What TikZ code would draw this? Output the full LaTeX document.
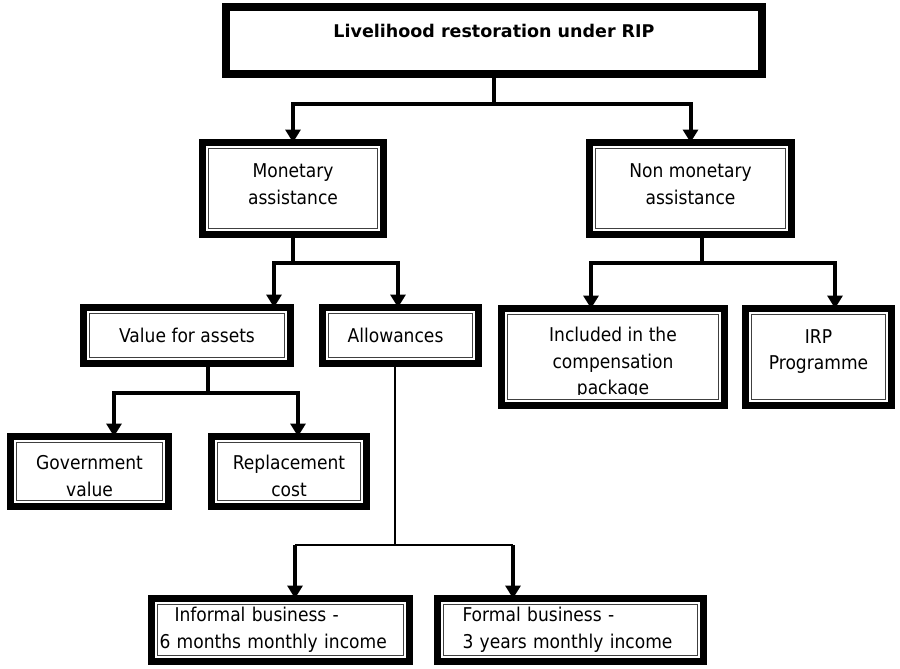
\documentclass[tikz,border=0pt]{standalone}
\usepackage{fontspec}
\setmainfont{DejaVu Sans}[FakeStretch=0.9]
\newfontfamily\titlefont{DejaVu Sans}
\usetikzlibrary{arrows.meta,calc}
\newcommand{\bodyfont}{\fontsize{19}{26.5}\selectfont}
\begin{document}
\begin{tikzpicture}[x=1pt,y=-1pt,
  every node/.style={font=\bodyfont},
  dbox/.style={draw=black, line width=7pt, inner sep=0pt, outer sep=0pt, align=center, fill=white},
  titlebox/.style={draw=black, line width=8pt, inner sep=0pt, outer sep=0pt, fill=white,
     font=\titlefont\fontsize{17.5}{20}\selectfont\bfseries, text height=13pt, text depth=18pt},
  innerline/.style={line width=1.5pt, draw=black!75},
  arr/.style={line width=4pt, line join=miter, -{Triangle[width=15pt,length=13pt]}},
  thinln/.style={line width=2pt}]
\useasboundingbox (0,0) rectangle (900,669);
\fill[white] (0,0) rectangle (900,669);

% boxes
\node[titlebox, minimum width=536pt, minimum height=67pt] (title) at (494,40.5) {Livelihood restoration under RIP};
\node[dbox, minimum width=181pt, minimum height=92pt] (mon) at (293,188.5) {Monetary\\assistance\\[-18pt]\mbox{}};
\node[dbox, minimum width=202pt, minimum height=92pt] (non) at (690.5,188.5) {Non monetary\\assistance\\[-18pt]\mbox{}};
\node[dbox, minimum width=207pt, minimum height=56pt] (val) at (187,335.5) {Value for assets};
\node[dbox, minimum width=156pt, minimum height=56pt] (allow) at (400.5,335.5) {Allowances\hspace*{10pt}};
\node[dbox, minimum width=223pt, minimum height=97pt] (incl) at (613,357) {\mbox{}\\Included in the\\compensation\\package};
\node[dbox, minimum width=146pt, minimum height=97pt] (irp) at (818.5,357) {IRP\\Programme\\[-12pt]\mbox{}};
\node[dbox, minimum width=158pt, minimum height=70pt] (gov) at (89.5,471.5) {\mbox{}\\[-3pt]Government\\value};
\node[dbox, minimum width=155pt, minimum height=70pt] (rep) at (289,471.5) {\mbox{}\\[-3pt]Replacement\\cost};
\node[dbox, minimum width=258pt, minimum height=63pt, text width=258pt, align=left] (inf) at (280.5,630)
  {\hspace*{23pt}Informal business -\\\hspace*{8pt}6 months monthly income};
\node[dbox, minimum width=266pt, minimum height=63pt, text width=266pt, align=left] (form) at (570.5,630)
  {\hspace*{25pt}Formal business -\\\hspace*{25pt}3 years monthly income};

% clipped last line of "package"
\fill[white] ([shift={(4pt,3.5pt)}]incl.south west) rectangle ([shift={(-4pt,11pt)}]incl.south east);

% inner thin borders
\foreach \n in {mon,non,val,allow,incl,irp,gov,rep,inf,form}
  \draw[innerline] ([shift={(6pt,6pt)}]\n.south west) rectangle ([shift={(-6pt,-6pt)}]\n.north east);

% connectors
\draw[arr] (title.south) -- ++(0,30) -| (mon.north);
\draw[arr] (title.south) -- ++(0,30) -| (non.north);

\draw[arr] (mon.south) -- ++(0,28) -| ([xshift=-19pt]mon.south |- val.north);
\draw[arr] (mon.south) -- ++(0,28) -| ([xshift=-2.5pt]allow.north);

\draw[arr] ([xshift=11.5pt]non.south) -- ++(0,28) -| ([xshift=-22pt]incl.north);
\draw[arr] ([xshift=11.5pt]non.south) -- ++(0,28) -| ([xshift=16.5pt]irp.north);

\draw[arr] ([xshift=21pt]val.south) -- ++(0,29.5) -| ([xshift=24.5pt]gov.north);
\draw[arr] ([xshift=21pt]val.south) -- ++(0,29.5) -| ([xshift=9pt]rep.north);

\coordinate (infa) at ([xshift=14.5pt]inf.north);
\coordinate (forma) at ([xshift=-57.5pt]form.north);
\draw[thinln] ([xshift=-5.5pt]allow.south) -- ++(0,181.5) coordinate (aj);
\draw[thinln] (aj -| infa) -- (aj -| forma);
\draw[arr] (aj -| infa) -- (infa);
\draw[arr] (aj -| forma) -- (forma);
\end{tikzpicture}
\end{document}
